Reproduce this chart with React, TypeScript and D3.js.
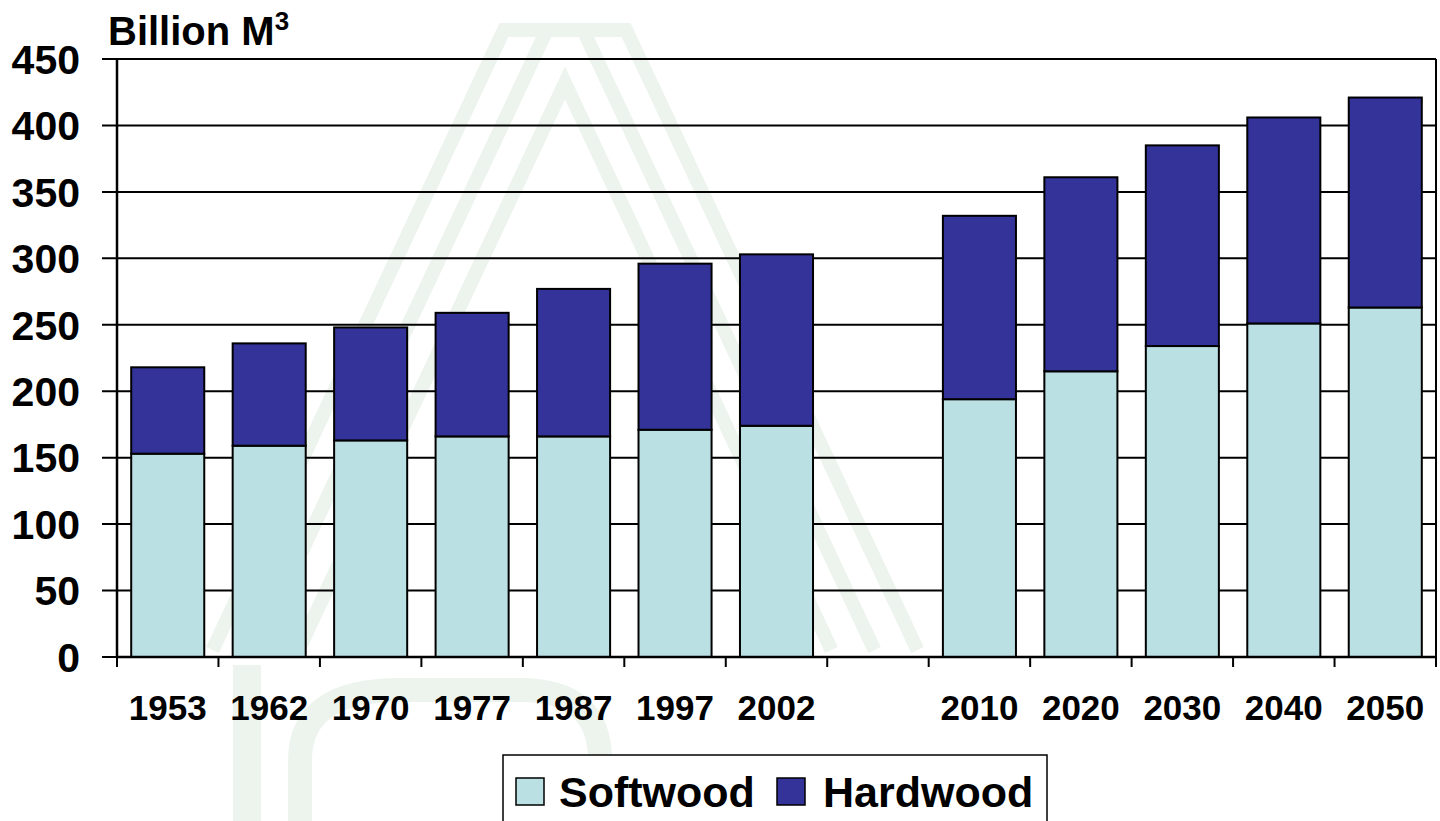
import React from "react";
import * as d3 from "d3";

const years = ["1953", "1962", "1970", "1977", "1987", "1997", "2002", "", "2010", "2020", "2030", "2040", "2050"];
const softwood: (number | null)[] = [153, 159, 163, 166, 166, 171, 174, null, 194, 215, 234, 251, 263];
const hardwood: (number | null)[] = [65, 77, 85, 93, 111, 125, 129, null, 138, 146, 151, 155, 158];
const yTicks = [0, 50, 100, 150, 200, 250, 300, 350, 400, 450];
const seriesNames = ["Softwood", "Hardwood"];
const seriesColors = ["#BBE0E3", "#333399"];

const FONT = "'Liberation Sans', Arial, Helvetica, sans-serif";

export default function App() {
  const W = 1440, H = 821;
  const left = 117, right = 1436, top = 59, bottom = 657;
  const keys = years.map((yr, i) => yr + "#" + i);
  const x = d3.scaleBand<string>().domain(keys).range([left, right]).paddingInner(0.28).paddingOuter(0.14);
  const y = d3.scaleLinear().domain([0, 450]).range([bottom, top]);
  const step = x.step();
  const boundaries = d3.range(years.length + 1).map((i) => left + i * step);

  // faint watermark chevrons
  const wmColor = "#edf4ee";
  const cx = 565;
  const chevrons = [55, 98, 141].map((off) => {
    const yTop = 30, yBot = 650;
    const slope = 0.47;
    const apexY = 200 - off / slope;
    const y1 = Math.max(yTop, apexY);
    const dxAt = (yy: number) => off + slope * (yy - 200);
    return `M${cx - dxAt(yBot)},${yBot} L${cx - dxAt(y1)},${y1} L${cx + dxAt(y1)},${y1} L${cx + dxAt(yBot)},${yBot}`;
  });

  return (
    <svg width={W} height={H} style={{ position: "absolute", left: 0, top: 0, background: "#fff" }} fontFamily={FONT}>
      <rect x={0} y={0} width={W} height={H} fill="#fff" />
      {/* watermark */}
      <g fill="none" stroke={wmColor} strokeWidth={14}>
        {chevrons.map((d, i) => (
          <path key={i} d={d} />
        ))}
        <path d="M247,665 L247,821" strokeWidth={28} />
        <path d="M300,821 L300,760 Q300,690 400,690 L520,690 Q600,690 600,760 L600,821" strokeWidth={24} />
      </g>

      {/* gridlines */}
      {yTicks.map((t) => (
        <line key={t} x1={102} x2={right} y1={y(t)} y2={y(t)} stroke="#000" strokeWidth={2} />
      ))}

      {/* bars */}
      {keys.map((k, i) => {
        const s = softwood[i];
        const h = hardwood[i];
        if (s == null || h == null) return null;
        const bx = x(k)!;
        const bw = x.bandwidth();
        return (
          <g key={k}>
            <rect x={bx} y={y(s)} width={bw} height={y(0) - y(s)} fill={seriesColors[0]} stroke="#000" strokeWidth={2} />
            <rect x={bx} y={y(s + h)} width={bw} height={y(s) - y(s + h)} fill={seriesColors[1]} stroke="#000" strokeWidth={2} />
          </g>
        );
      })}

      {/* axes */}
      <line x1={left} x2={left} y1={top} y2={bottom} stroke="#000" strokeWidth={2.5} />
      <line x1={right} x2={right} y1={top} y2={bottom} stroke="#000" strokeWidth={2} />
      <line x1={left} x2={right} y1={bottom} y2={bottom} stroke="#000" strokeWidth={2.5} />
      {boundaries.map((bx, i) => (
        <line key={i} x1={bx} x2={bx} y1={bottom} y2={bottom + 10} stroke="#000" strokeWidth={2} />
      ))}

      {/* y labels */}
      {yTicks.map((t) => (
        <text key={t} x={80} y={y(t)} dy="0.36em" textAnchor="end" fontSize={41} fontWeight="bold" fill="#000">
          {t}
        </text>
      ))}

      {/* x labels */}
      {keys.map((k, i) => (
        <text key={k} x={x(k)! + x.bandwidth() / 2} y={720} textAnchor="middle" fontSize={35} fontWeight="bold" fill="#000">
          {years[i]}
        </text>
      ))}

      {/* title */}
      <text x={108} y={45} fontSize={40} fontWeight="bold" fill="#000">
        Billion M<tspan fontSize={26} dy={-15}>3</tspan>
      </text>

      {/* legend */}
      <rect x={503} y={755} width={544} height={90} fill="#fff" stroke="#000" strokeWidth={1.5} />
      <rect x={516} y={778} width={28} height={27} fill={seriesColors[0]} stroke="#000" strokeWidth={1.5} />
      <text x={559} y={807} fontSize={43} fontWeight="bold" fill="#000">{seriesNames[0]}</text>
      <rect x={777} y={778} width={28} height={27} fill={seriesColors[1]} stroke="#000" strokeWidth={1.5} />
      <text x={823} y={807} fontSize={43} fontWeight="bold" fill="#000">{seriesNames[1]}</text>
    </svg>
  );
}
